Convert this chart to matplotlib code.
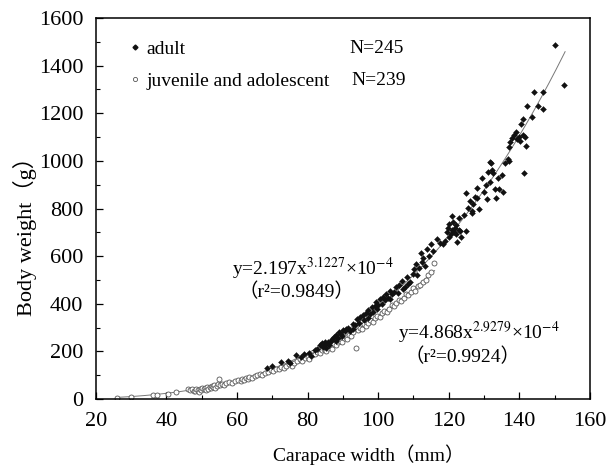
import numpy as np
import matplotlib.pyplot as plt
from matplotlib.ticker import MultipleLocator
from matplotlib.lines import Line2D

# adult crabs, carapace width (mm) / body weight (g)
adult_x = [68.5, 70, 72.5, 74.5, 75, 76.8, 78, 79,
           80.5, 81, 82, 82.8, 83.5, 84, 84.4, 84.8, 85, 85.3, 85.7, 86, 86.5, 87, 87.5, 88, 88,
           88.5, 89, 89.4, 89.8, 90, 90.5, 91, 91.5, 92, 92.8, 93, 93.5,
           94, 94.5, 95, 95.6, 96, 96.5, 97, 97.2, 97.8, 98.3, 98.5, 99, 99.4, 99.8, 100, 100.6,
           101, 101.5, 102, 102.2, 102.7, 103.3, 103.5, 104, 104.5, 105, 105.5,
           106, 106.7, 107, 107.5, 108.3, 108.5, 109, 110, 110.3, 110.6, 111, 111.7, 112.2, 112.5,
           112.8, 113.2, 113.9, 114.5, 115, 115.5, 116.7, 117.5,
           118.5, 118.9, 119.4, 119.8, 120, 120.2, 120.6, 120.8, 121, 121.2, 121.5, 121.7, 122,
           122.2, 122.3, 122.8, 123, 123.3, 123.5, 124.4, 125, 125, 125.5, 126, 126.5, 126.7, 127,
           127.5, 128, 128, 128.5, 129.4, 130, 130.5, 131, 131.2, 131.7, 131.7, 132, 132.3, 132.5,
           133, 133.3, 134, 134.4, 135, 135.5, 136, 136.7, 137, 137,
           137.5, 138, 138.5, 139, 139.5, 140, 140.3, 140.6, 141, 141.1, 141.3, 141.5, 142, 142.2,
           143.7, 144.1, 145.4, 146.6, 146.7, 150, 152.8]
adult_y = [132, 140, 155, 160, 150, 185, 175, 190,
           195, 182, 205, 212, 225, 235, 220, 240, 230, 215, 238, 225, 245, 250, 262, 270, 245,
           255, 280, 275, 265, 290, 285, 296, 300, 285, 316, 295, 310,
           337, 320, 345, 351, 330, 360, 340, 372, 355, 386, 365, 390, 407, 380, 395, 420,
           400, 430, 415, 441, 425, 455, 420, 440, 450, 469, 445,
           480, 497, 460, 470, 511, 485, 490, 525, 545, 566, 520, 552, 615, 575,
           594, 560, 628, 600, 650, 620, 670, 655,
           650, 663, 700, 720, 733, 680, 691, 710, 767, 745, 700, 719, 730,
           691, 660, 760, 710, 705, 680, 774, 705, 865, 802, 830, 780, 788, 820,
           850, 886, 844, 800, 927, 870, 900, 840, 955, 997, 913, 990, 960, 950,
           880, 843, 930, 880, 940, 870, 990, 1010, 1000, 1060,
           1080, 1095, 1108, 1120, 1090, 1100, 1085, 1156, 1110, 1174, 948, 1100, 1063, 1232,
           1184, 1290, 1230, 1218, 1290, 1485, 1318]

# juvenile and adolescent crabs
juv_x = [26, 30, 36.2, 37.2, 40.5, 42.7,
         46.2, 46.8, 47.3, 47.8, 48.2, 48.5, 48.8, 49.2, 49.5, 49.8, 50.2, 50.5, 50.8, 51.2, 51.5,
         51.8, 52.2, 52.5, 52.8, 53.2, 53.5, 53.8, 54.2, 54.5, 54.9, 55.3, 55.8, 56.3, 57, 57.8,
         58.5, 59.5, 60.3, 61, 61.5, 62, 62.5, 63, 63.5, 64.2, 65, 65.8, 66.5, 67.2, 68, 68.8,
         69.5, 70.3, 71, 71.8, 72.5, 73.2, 74, 74.8, 75.5, 76.2, 77, 77.8, 78.5, 79.2, 80, 80.5,
         81.2, 82, 82.8, 83.5, 84, 84.6, 85.2, 85.8, 86.4, 87, 87.5, 88, 88.6, 89.2, 89.8, 90.3,
         90.8, 91.3, 91.8, 92.3, 93, 93.7, 94.2, 94.8, 95.5, 96, 96.5, 97.2, 97.8, 98.5, 99.2,
         99.8, 100.5, 101.2, 101.8, 102.5, 103.2, 103.8, 104.5, 105.2, 105.8, 106.5, 107.2, 107.8,
         108.5, 109.2, 109.8, 110.5, 111.2, 112, 112.8, 113.5, 114.2, 115, 115.9]
juv_y = [6, 9, 16, 16, 22, 30,
         40, 38, 42, 35, 33, 44, 38, 30, 41, 36, 45, 40, 48, 38, 50,
         44, 52, 46, 55, 50, 58, 48, 56, 62, 83, 58, 64, 60, 66, 70,
         66, 75, 80, 76, 85, 80, 90, 84, 92, 88, 96, 100, 104, 100, 110, 115,
         120, 116, 126, 124, 135, 130, 140, 145, 138, 150, 160, 168, 160, 172, 178, 170,
         185, 190, 198, 195, 205, 212, 200, 215, 222, 210, 230, 225, 238, 245, 240, 255,
         262, 250, 270, 265, 280, 215, 290, 300, 295, 315, 305, 320, 330, 325, 340,
         350, 345, 360, 370, 365, 380, 395, 390, 405, 415, 410, 425, 440,
         435, 450, 465, 455, 475, 480, 490, 500, 520, 535, 573]

# fitted power curves printed on the chart: y = a * x^b * 1e-4
adult_fit = (2.197, 3.1227)
juv_fit = (4.868, 2.9279)

serif = ['Liberation Serif', 'Noto Sans CJK SC']
plt.rcParams['font.family'] = serif
plt.rcParams['mathtext.fontset'] = 'stix'

fig = plt.figure(figsize=(6.15, 4.75), dpi=100)
ax = fig.add_axes([0.156, 0.16, 0.803, 0.802])

xa = np.linspace(68, 153, 200)
ax.plot(xa, adult_fit[0] * xa ** adult_fit[1] * 1e-4, color='#777777', lw=0.7, zorder=1)
xj = np.linspace(26, 116, 200)
ax.plot(xj, juv_fit[0] * xj ** juv_fit[1] * 1e-4, color='#777777', lw=0.7, zorder=1)

ax.plot(juv_x, juv_y, 'o', ms=3.6, mfc='white', mec='#555555', mew=0.6, zorder=2)
ax.plot(adult_x, adult_y, 'D', ms=3.0, mfc='#111111', mec='#111111', mew=0.3, zorder=3)

ax.set_xlim(20, 160)
ax.set_ylim(0, 1600)
ax.xaxis.set_major_locator(MultipleLocator(20))
ax.xaxis.set_minor_locator(MultipleLocator(10))
ax.yaxis.set_major_locator(MultipleLocator(200))
ax.yaxis.set_minor_locator(MultipleLocator(100))
ax.tick_params(which='both', direction='in', top=False, right=False, labelsize=16)
ax.tick_params(which='major', length=5, width=0.9)
ax.tick_params(which='minor', length=3, width=0.8)
ax.tick_params(axis='x', pad=9)
ax.tick_params(axis='y', pad=9)
for s in ax.spines.values():
    s.set_linewidth(1.1)

ax.set_xlabel('Carapace width（mm）', fontsize=14)
ax.xaxis.set_label_coords(0.553, -0.12)
ax.set_ylabel('Body weight（g）', fontsize=16)
ax.yaxis.set_label_coords(-0.12, 0.44)

handles = [Line2D([], [], ls='none', marker='D', ms=2.5, mfc='#111111', mec='#111111'),
           Line2D([], [], ls='none', marker='o', ms=3, mfc='white', mec='#555555', mew=0.6)]
ax.legend(handles, ['adult', 'juvenile and adolescent'], loc='upper left',
          bbox_to_anchor=(0.055, 0.962), frameon=False, fontsize=14,
          handlelength=0.4, handletextpad=0.4, labelspacing=0.75, borderaxespad=0)

ax.text(0.514, 0.921, 'N=245', transform=ax.transAxes, fontsize=14, va='center')
ax.text(0.518, 0.835, 'N=239', transform=ax.transAxes, fontsize=14, va='center')

ax.text(58.5, 550, r'y=2.197x$^{3.1227}$×10$^{-4}$', fontsize=14, va='center')
ax.text(60.5, 450, '（r²=0.9849）', fontsize=14, va='center')
ax.text(105.6, 277, r'y=4.868x$^{2.9279}$×10$^{-4}$', fontsize=14, va='center')
ax.text(107.5, 176, '（r²=0.9924）', fontsize=14, va='center')

fig.savefig('out.png', dpi=100)
